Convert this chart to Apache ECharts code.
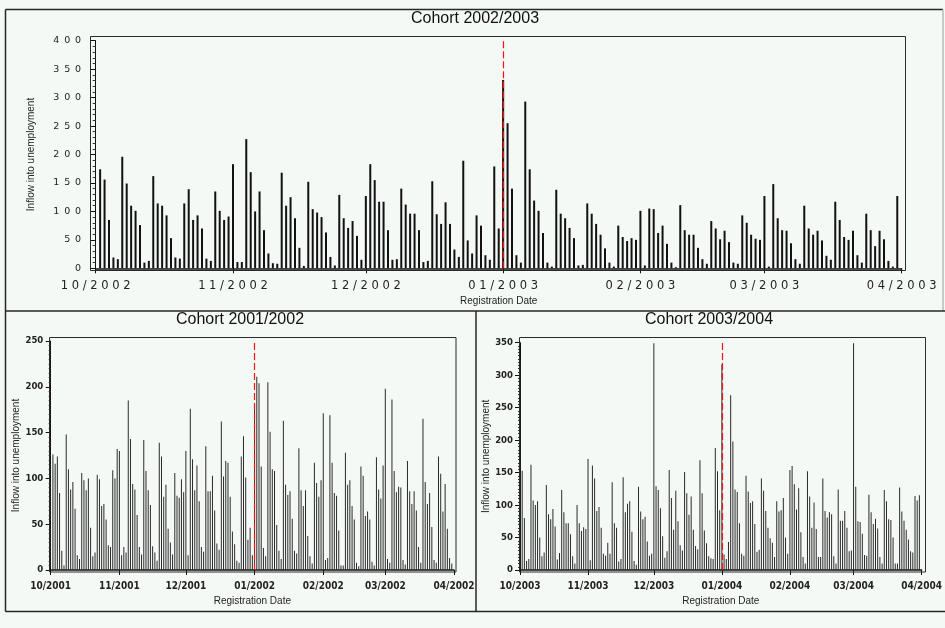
<!DOCTYPE html>
<html>
<head>
<meta charset="utf-8">
<script src="https://cdn.jsdelivr.net/npm/echarts@6/dist/echarts.min.js"></script>
<style>
  html, body { margin: 0; padding: 0; background: #f5f9f6; }
  #chart { width: 945px; height: 628px; }
</style>
</head>
<body>
<div id="chart"></div>
<script>
// Daily inflow into unemployment by registration date, one panel per cohort.

// ---- Cohort 2002/2003 (top panel) ----
const topTitle = 'Cohort 2002/2003';
const topFirstDay = '2002-10-02';
const topMonthLabels = ['10/2002', '11/2002', '12/2002', '01/2003', '02/2003', '03/2003', '04/2003'];
const topMarkerDate = '2003-01-01';
const topValues = [
  174, 156, 85, 19, 16, 196, 149, 110, 101, 76, 10, 13, 162, 114, 110, 93, 53, 19, 17, 114,
  139, 85, 93, 70, 17, 13, 135, 101, 85, 91, 183, 11, 11, 227, 169, 100, 135, 67, 26, 9,
  8, 168, 110, 125, 88, 36, 4, 152, 104, 98, 90,
  63, 20, 5, 129, 88, 71, 83, 57, 15, 127,
  183, 155, 117, 117, 67, 15, 16, 140, 112, 96,
  96, 67, 11, 13, 153, 95, 78, 116, 78, 33,
  20, 189, 49, 26, 93, 75, 23, 15, 179, 70,
  331, 255, 140, 23, 10, 293, 174, 119, 101, 62,
  10, 3, 138, 96, 88, 71, 53, 5, 6, 114,
  96, 78, 59, 35, 10, 3, 75, 55, 48, 53,
  50,
  101, 5, 105, 104, 62, 75, 43, 10, 2, 111,
  67, 59, 59, 36, 16, 8, 83, 70, 51, 66,
  46, 10, 8, 93, 80, 59, 52, 50, 127, 3,
  148, 88, 67, 66, 44, 16, 8, 110, 70, 59,
  66, 49, 22, 15, 117, 85, 55, 50, 66, 23,
  10, 96, 67, 39, 66, 51, 13, 3, 127
];
const topYTicks = [0, 50, 100, 150, 200, 250, 300, 350, 400];

// ---- Cohort 2001/2002 (bottom left panel) ----
const leftTitle = 'Cohort 2001/2002';
const leftFirstDay = '2001-10-02';
const leftMonthLabels = ['10/2001', '11/2001', '12/2001', '01/2002', '02/2002', '03/2002', '04/2002'];
const leftMarkerDate = '2002-01-01';
const leftValues = [
  126, 116, 124, 84, 21, 5, 148, 110, 88, 96,
  67, 16, 12, 106, 98, 87, 100, 46, 15, 19,
  104, 99, 70, 72, 55, 27, 25, 109, 100, 132,
  130, 16, 25, 19, 185, 143, 94, 88, 60, 25,
  17, 142, 108, 87, 71, 26, 19, 10, 139, 124,
  80, 93, 45, 30, 17, 106, 81, 79, 99, 85,
  130, 16, 176, 121, 87, 114, 75, 25, 20, 135,
  86, 86, 103, 65, 29, 22, 162, 102, 119, 117,
  80, 42, 28, 10, 8, 124, 146, 101, 33, 46,
  16, 180, 211, 204, 113,
  24, 15, 205, 151, 110, 108, 49, 21, 12, 163,
  93, 82, 86, 56, 21, 18, 133, 87, 70, 87,
  37, 15, 7, 117, 95, 80, 98, 171, 11, 13,
  169, 117, 84, 81, 43, 5, 5, 128, 93, 98,
  70, 55, 8, 4, 113, 103, 59, 64, 55, 9,
  5, 123, 88, 78, 114, 198, 12, 8, 186, 108,
  85, 91, 90, 11, 6, 119, 86, 72, 86, 65,
  25, 8, 165, 96, 72, 84, 47, 11, 8, 124,
  105, 64, 94, 45, 13, 7
];
const leftYTicks = [0, 50, 100, 150, 200, 250];

// ---- Cohort 2003/2004 (bottom right panel) ----
const rightTitle = 'Cohort 2003/2004';
const rightFirstDay = '2003-10-01';
const rightMonthLabels = ['10/2003', '11/2003', '12/2003', '01/2004', '02/2004', '03/2004', '04/2004'];
const rightMarkerDate = '2004-01-01';
const rightValues = [
  325, 153, 80, 14, 17, 162, 107, 100, 106, 50,
  21, 27, 131, 86, 78, 94, 67, 16, 26, 123,
  89, 72, 72, 55, 21, 10, 100, 72, 60, 66,
  63, 171, 15, 161, 141, 91, 97, 65, 25, 22,
  42, 25, 135, 72, 65, 13, 17, 143, 89, 102,
  106, 59, 14, 8, 128, 90, 78, 82, 44, 22,
  25, 349, 129, 123, 95, 52, 19, 29, 154, 111,
  62, 122, 75, 38, 30, 151, 118, 85, 113, 62,
  37, 32, 169, 118, 61, 41, 21, 18, 17, 188,
  152, 92,
  317, 24, 17, 43, 269, 198, 124, 120, 72, 25,
  22, 145, 121, 103, 106, 71, 28, 31, 141, 122,
  91, 65, 49, 42, 20, 106, 90, 92, 111, 50,
  25, 154, 160, 132, 93, 126, 58, 20, 10, 152,
  113, 65, 104, 63, 20, 20, 141, 91, 81, 89,
  86, 21, 10, 124, 76, 76, 91, 65, 29, 30,
  349, 128, 75, 74, 56, 23, 22, 116, 89, 71,
  79, 64, 20, 10, 123, 106, 78, 77, 50, 10,
  10, 127, 90, 76, 62, 47, 29, 27, 114, 107,
  115
];
const rightYTicks = [0, 50, 100, 150, 200, 250, 300, 350];

const xAxisTitle = 'Registration Date';
const yAxisTitle = 'Inflow into unemployment';

// ---- helpers ----
const DAY = 86400000;
function monthToIso(lbl) {
  const parts = lbl.split('/');
  return parts[1] + '-' + parts[0] + '-01';
}
function dayDiff(from, to) {
  return Math.round((Date.parse(to) - Date.parse(from)) / DAY);
}
function spaced(s, gap) {
  return String(s).split('').join(gap);
}

function buildPanel(p) {
  const origin = monthToIso(p.months[0]);
  const tickPos = p.months.map(m => dayDiff(origin, monthToIso(m)));
  const labelAt = {};
  tickPos.forEach((pos, i) => { labelAt[pos] = p.months[i]; });
  const first = dayDiff(origin, p.firstDay);
  const points = p.values.map((v, i) => [first + i, v]);
  const marker = dayDiff(origin, p.marker);
  return { tickPos, labelAt, points, marker, span: tickPos[tickPos.length - 1] };
}

const panels = [
  {
    title: topTitle, months: topMonthLabels, firstDay: topFirstDay, values: topValues,
    marker: topMarkerDate, yTicks: topYTicks,
    grid: { left: 95.7, top: 40.7, width: 806, height: 227.6 },
    yOffset: 5.7, yLabelMargin: 9, xLabelMargin: 12, xNameGap: 28, yNameGap: 54,
    barWidth: 2, barColor: '#111', minorSplit: 5,
    xFont: { fontSize: 11.5, fontFamily: 'DejaVu Sans', color: '#222' },
    yFont: { fontSize: 9.5, fontFamily: 'DejaVu Sans', color: '#222' },
    xSpace: ' ', ySpace: '\u2002', minorLen: 3
  },
  {
    title: leftTitle, months: leftMonthLabels, firstDay: leftFirstDay, values: leftValues,
    marker: leftMarkerDate, yTicks: leftYTicks,
    grid: { left: 50.7, top: 341, width: 403.3, height: 229 },
    yOffset: 1.4, yLabelMargin: 6, xLabelMargin: 11, xNameGap: 26, yNameGap: 27,
    barWidth: 1, barColor: '#2a2a2a', minorSplit: 10,
    xFont: { fontSize: 10, fontFamily: 'DejaVu Sans Condensed', fontWeight: 'bold', color: '#222' },
    yFont: { fontSize: 9.5, fontFamily: 'DejaVu Sans Condensed', fontWeight: 'bold', color: '#222' },
    xSpace: '', ySpace: '', minorLen: 2
  },
  {
    title: rightTitle, months: rightMonthLabels, firstDay: rightFirstDay, values: rightValues,
    marker: rightMarkerDate, yTicks: rightYTicks,
    grid: { left: 520, top: 342.7, width: 403.7, height: 227.3 },
    yOffset: 1, yLabelMargin: 6, xLabelMargin: 11, xNameGap: 26, yNameGap: 28,
    barWidth: 1, barColor: '#2a2a2a', minorSplit: 10,
    xFont: { fontSize: 10, fontFamily: 'DejaVu Sans Condensed', fontWeight: 'bold', color: '#222' },
    yFont: { fontSize: 9.5, fontFamily: 'DejaVu Sans Condensed', fontWeight: 'bold', color: '#222' },
    xSpace: '', ySpace: '', minorLen: 2
  }
];

const nameFont = { fontSize: 10, fontFamily: 'Liberation Sans', color: '#222' };
const grids = [], xAxes = [], yAxes = [], series = [];

panels.forEach((p, k) => {
  const b = buildPanel(p);
  grids.push(Object.assign({ containLabel: false }, p.grid));
  xAxes.push({
    gridIndex: k, type: 'value', min: 0, max: b.span,
    axisLine: { show: true, onZero: false, lineStyle: { color: '#111', width: 1.5 } },
    axisTick: { show: true, customValues: b.tickPos, length: 5, lineStyle: { color: '#111' } },
    axisLabel: Object.assign({
      customValues: b.tickPos, margin: p.xLabelMargin,
      formatter: v => spaced(b.labelAt[v] || '', p.xSpace)
    }, p.xFont),
    splitLine: { show: false },
    name: xAxisTitle, nameLocation: 'middle', nameGap: p.xNameGap, nameTextStyle: nameFont
  });
  const yMax = p.yTicks[p.yTicks.length - 1];
  yAxes.push({
    gridIndex: k, type: 'value', min: 0, max: yMax, interval: p.yTicks[1] - p.yTicks[0],
    offset: p.yOffset,
    axisLine: { show: true, lineStyle: { color: '#111', width: 1 } },
    axisTick: { show: true, length: 5, lineStyle: { color: '#111' } },
    minorTick: { show: true, splitNumber: p.minorSplit, length: p.minorLen, lineStyle: { color: '#333' } },
    axisLabel: Object.assign({ margin: p.yLabelMargin, formatter: v => spaced(v, p.ySpace) }, p.yFont),
    splitLine: { show: false },
    name: yAxisTitle, nameLocation: 'middle', nameGap: p.yNameGap, nameTextStyle: nameFont
  });
  series.push({
    type: 'bar', xAxisIndex: k, yAxisIndex: k,
    data: b.points, barWidth: p.barWidth,
    itemStyle: { color: p.barColor },
    markLine: {
      silent: true, z: 20, symbol: ['none', 'none'], label: { show: false },
      lineStyle: { color: '#ff1010', width: 1.2, type: [7, 3], opacity: 1 },
      emphasis: { disabled: true },
      data: [{ xAxis: b.marker, lineStyle: { color: '#ff1010' } }]
    }
  });
});

// panel frames, separators and plot boxes
const dark = '#262626';
function seg(x1, y1, x2, y2, color, w) {
  return { type: 'line', silent: true, z: 100, shape: { x1, y1, x2, y2 }, style: { stroke: color, lineWidth: w } };
}
function box(x, y, w, h) {
  return { type: 'rect', silent: true, z: 100, shape: { x, y, width: w, height: h }, style: { fill: 'none', stroke: '#2b2b2b', lineWidth: 1 } };
}
function heading(text, cx, top) {
  return { type: 'text', silent: true, z: 100, x: cx, y: top,
    style: { text, fill: '#111', font: '16px "Liberation Sans", Arial, sans-serif', align: 'center', verticalAlign: 'top' } };
}

const graphics = [
  seg(5.5, 9.5, 943, 9.5, dark, 1.5),
  seg(5.5, 9.5, 5.5, 611.5, dark, 1.5),
  seg(943, 9.5, 943, 311, '#b8bcb9', 1.5),
  seg(5.5, 311, 945, 311, dark, 1.5),
  seg(476, 311, 476, 611.5, dark, 1.5),
  seg(5.5, 611.5, 945, 611.5, dark, 1.5),
  box(90.5, 36.5, 815, 234),
  box(49.5, 337.5, 406.5, 234.5),
  box(519.5, 337.5, 406, 234.5),
  heading(panels[0].title, 475, 11),
  heading(panels[1].title, 240, 312),
  heading(panels[2].title, 709, 312)
];

const chart = echarts.init(document.getElementById('chart'), null, { renderer: 'canvas' });
chart.setOption({
  animation: false,
  backgroundColor: '#f5f9f6',
  grid: grids,
  xAxis: xAxes,
  yAxis: yAxes,
  series: series,
  graphic: graphics
});
</script>
</body>
</html>
